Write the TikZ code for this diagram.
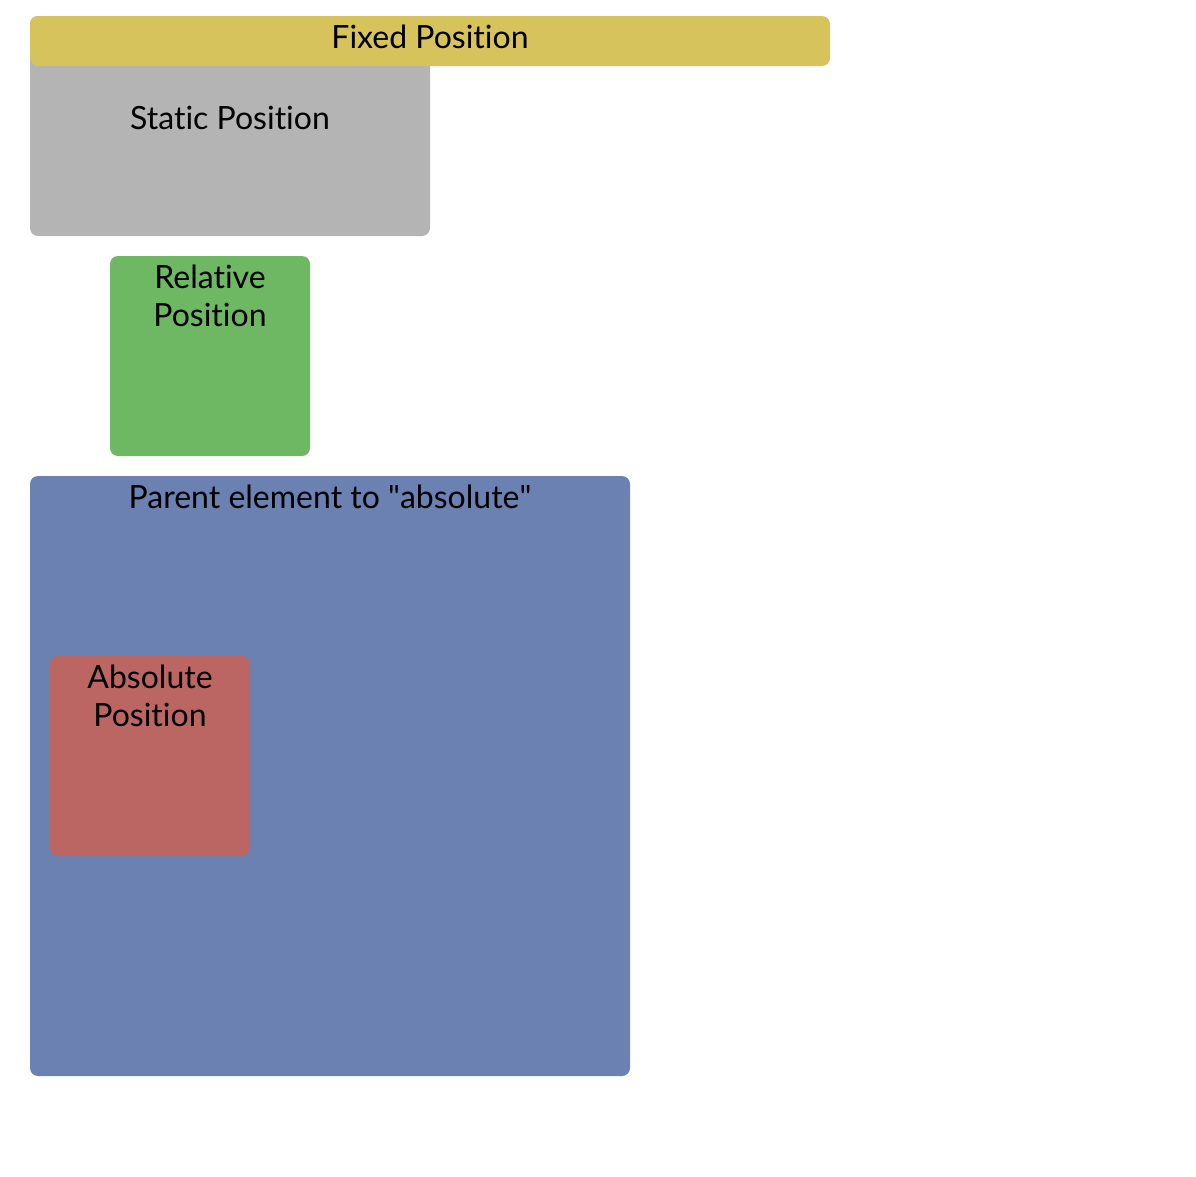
\documentclass[tikz,border=0pt]{standalone}
\usepackage{fontspec}
\setmainfont[Ligatures={NoCommon}]{Lato}
\definecolor{fixedc}{HTML}{D7C35C}
\definecolor{staticc}{HTML}{B4B4B4}
\definecolor{relc}{HTML}{6EB863}
\definecolor{parentc}{HTML}{6A81B2}
\definecolor{absc}{HTML}{BB6662}
\begin{document}
\begin{tikzpicture}[x=1pt,y=-1pt,
  boxstyle/.style={rounded corners=8pt, draw=none, inner sep=0pt, outer sep=0pt, anchor=north west},
  lbl/.style={font=\fontsize{32}{38}\selectfont, text=black, align=center, anchor=base, inner sep=0pt}]
\path[use as bounding box, fill=white] (0,0) rectangle (1196,1176);
% static
\node[boxstyle, fill=staticc, minimum width=400pt, minimum height=220pt] (static) at (30,16) {};
\node[lbl] (statict) at (230,129) {Static Position};
% fixed
\node[boxstyle, fill=fixedc, minimum width=800pt, minimum height=50pt] (fixed) at (30,16) {};
\node[lbl] (fixedt) at (430,48.5) {Fixed Position};
% relative
\node[boxstyle, fill=relc, minimum width=200pt, minimum height=200pt] (rel) at (110,256) {};
\node[lbl] (relt1) at (210,288) {Relative};
\node[lbl] (relt2) at (210,326) {Position};
% parent
\node[boxstyle, fill=parentc, minimum width=600pt, minimum height=600pt] (parent) at (30,476) {};
\node[lbl] (parentt) at (330,508.5) {Parent element to \textquotedbl absolute\textquotedbl};
% absolute
\node[boxstyle, fill=absc, minimum width=200pt, minimum height=200pt] (abs) at (50,656) {};
\node[lbl] (abst1) at (150,688) {Absolute};
\node[lbl] (abst2) at (150,726) {Position};
\end{tikzpicture}
\end{document}
